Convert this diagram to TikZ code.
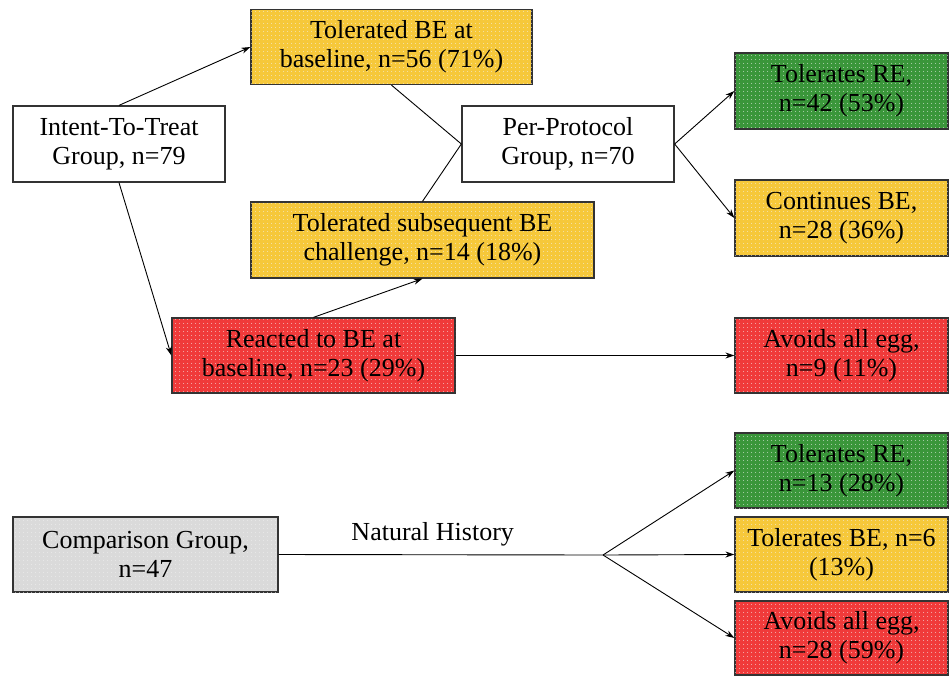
\documentclass[tikz,border=0pt]{standalone}
\usepackage{fontspec}
\setmainfont{Liberation Serif}
\usetikzlibrary{arrows.meta,patterns.meta}
\definecolor{boxyellow}{RGB}{246,200,58}
\definecolor{boxgreen}{RGB}{58,150,58}
\definecolor{boxred}{RGB}{240,58,58}
\definecolor{boxgray}{RGB}{218,218,218}
\begin{document}
\begin{tikzpicture}[x=1pt,y=-1pt,
  box/.style={draw=black!80, line width=1.3pt, inner sep=0pt, align=center,
    font=\fontsize{26}{29}\selectfont, minimum height=75pt},
  tex/.style={postaction={pattern={Dots[distance=4pt,radius=0.55pt]}, pattern color=white!90!gray}},
  whitebox/.style={box, fill=white},
  yelbox/.style={box, fill=boxyellow, tex},
  grnbox/.style={box, fill=boxgreen, tex},
  redbox/.style={box, fill=boxred, tex},
  graybox/.style={box, fill=boxgray, tex},
  conn/.style={line width=0.9pt, black},
  arr/.style={conn, -{Stealth[length=9pt,width=6pt]}}
]
\useasboundingbox (0,0) rectangle (950,675);
\fill[white] (0,0) rectangle (950,675);

\node[whitebox, minimum width=212pt, minimum height=76pt] (itt) at (119,144) {Intent-To-Treat\\Group, n=79};
\node[yelbox, minimum width=281pt] (tbe) at (391.5,47) {Tolerated BE at\\baseline, n=56 (71\%)};
\node[whitebox, minimum width=212pt, minimum height=76pt] (pp) at (568,144) {Per-Protocol\\Group, n=70};
\node[grnbox, minimum width=213pt, minimum height=76pt] (tre) at (841.5,91) {Tolerates RE,\\n=42 (53\%)};
\node[yelbox, minimum width=213pt, minimum height=76pt] (cbe) at (841.5,218) {Continues BE,\\n=28 (36\%)};
\node[yelbox, minimum width=343pt, minimum height=76pt] (tsb) at (422.5,240) {Tolerated subsequent BE\\challenge, n=14 (18\%)};
\node[redbox, minimum width=283pt] (rbe) at (313.5,355.5) {Reacted to BE at\\baseline, n=23 (29\%)};
\node[redbox, minimum width=213pt] (aae) at (841.5,355.5) {Avoids all egg,\\n=9 (11\%)};

\node[graybox, minimum width=265pt] (cg) at (145.5,554.5) {Comparison Group,\\n=47};
\node[grnbox, minimum width=213pt] (tre2) at (841.5,470.5) {Tolerates RE,\\n=13 (28\%)};
\node[yelbox, minimum width=213pt] (tbe2) at (841.5,554.5) {Tolerates BE, n=6\\(13\%)};
\node[redbox, minimum width=213pt, minimum height=74pt] (aae2) at (841.5,638) {Avoids all egg,\\n=28 (59\%)};

\draw[arr] (itt.north) -- (tbe.west);
\draw[arr] (itt.south) -- (rbe.west);
\draw[arr] (rbe.north) -- (tsb.south);
\draw[conn] (tbe.south) -- (pp.west);
\draw[conn] (tsb.north) -- (pp.west);
\draw[arr] (pp.east) -- (tre.west);
\draw[arr] (pp.east) -- (cbe.west);
\draw[arr] (rbe.east) -- (aae.west);

\coordinate (split) at (603,555);
\draw[conn] (cg.east) -- node[pos=0.475, above=5pt, font=\fontsize{26}{29}\selectfont] (nh) {Natural History} (split);
\draw[arr] (split) -- (tre2.west);
\draw[arr] (split) -- (tbe2.west);
\draw[arr] (split) -- (aae2.west);
\end{tikzpicture}
\end{document}
